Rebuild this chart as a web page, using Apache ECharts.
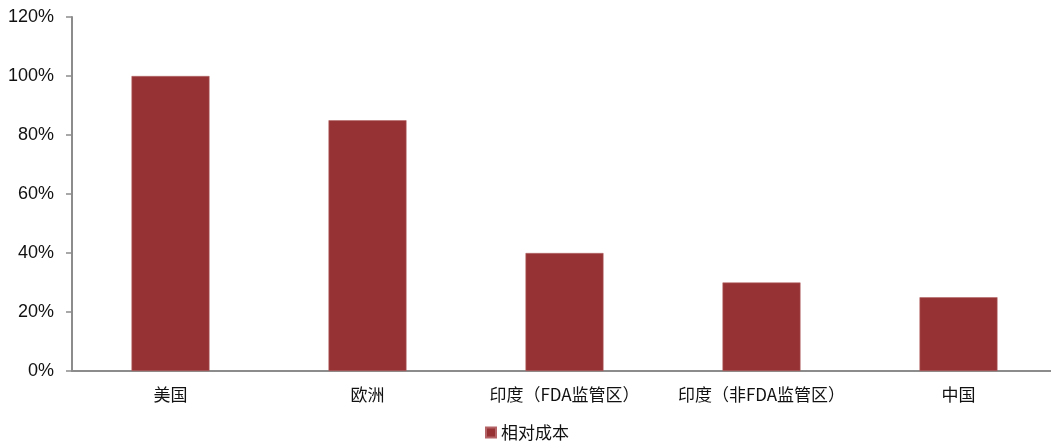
<!DOCTYPE html>
<html>
<head>
<meta charset="utf-8">
<script src="https://cdn.jsdelivr.net/npm/echarts@6/dist/echarts.min.js"></script>
<style>
  html, body { margin: 0; padding: 0; background: #fff; }
  #chart { width: 1051px; height: 446px; }
</style>
</head>
<body>
<div id="chart"></div>
<script>
// Regions compared and their relative cost (US = 100%)
const categories = ['美国', '欧洲', '印度（FDA监管区）', '印度（非FDA监管区）', '中国'];
const relativeCost = [100, 85, 40, 30, 25];
const seriesName = '相对成本';

const chart = echarts.init(document.getElementById('chart'), null, { renderer: 'canvas' });

chart.setOption({
  animation: false,
  backgroundColor: '#ffffff',
  grid: { left: 72, top: 17, width: 985, height: 354, containLabel: false, outerBoundsMode: 'none' },
  legend: {
    data: [seriesName],
    bottom: 0,
    left: 480,
    itemWidth: 10,
    itemHeight: 10,
    itemGap: 4,
    icon: 'rect',
    textStyle: { fontFamily: 'Noto Sans CJK SC', fontSize: 17, color: '#111' }
  },
  xAxis: {
    type: 'category',
    data: categories,
    axisLine: { lineStyle: { color: '#8c8c8c', width: 2 } },
    axisTick: { show: false },
    axisLabel: {
      interval: 0,
      hideOverlap: false,
      margin: 15,
      fontFamily: 'Noto Sans CJK SC',
      fontSize: 17,
      color: '#111'
    }
  },
  yAxis: {
    type: 'value',
    min: 0,
    max: 120,
    interval: 20,
    axisLine: { show: true, lineStyle: { color: '#8c8c8c', width: 2 } },
    axisTick: { show: true, length: 6, lineStyle: { color: '#8c8c8c', width: 1.5 } },
    splitLine: { show: false },
    axisLabel: {
      formatter: '{value}%',
      margin: 18,
      fontFamily: 'Liberation Sans',
      fontSize: 18,
      color: '#111'
    }
  },
  series: [{
    name: seriesName,
    type: 'bar',
    data: relativeCost,
    barWidth: 78,
    itemStyle: { color: '#963234', borderColor: '#b46466', borderWidth: 0.6 }
  }]
});
</script>
</body>
</html>
